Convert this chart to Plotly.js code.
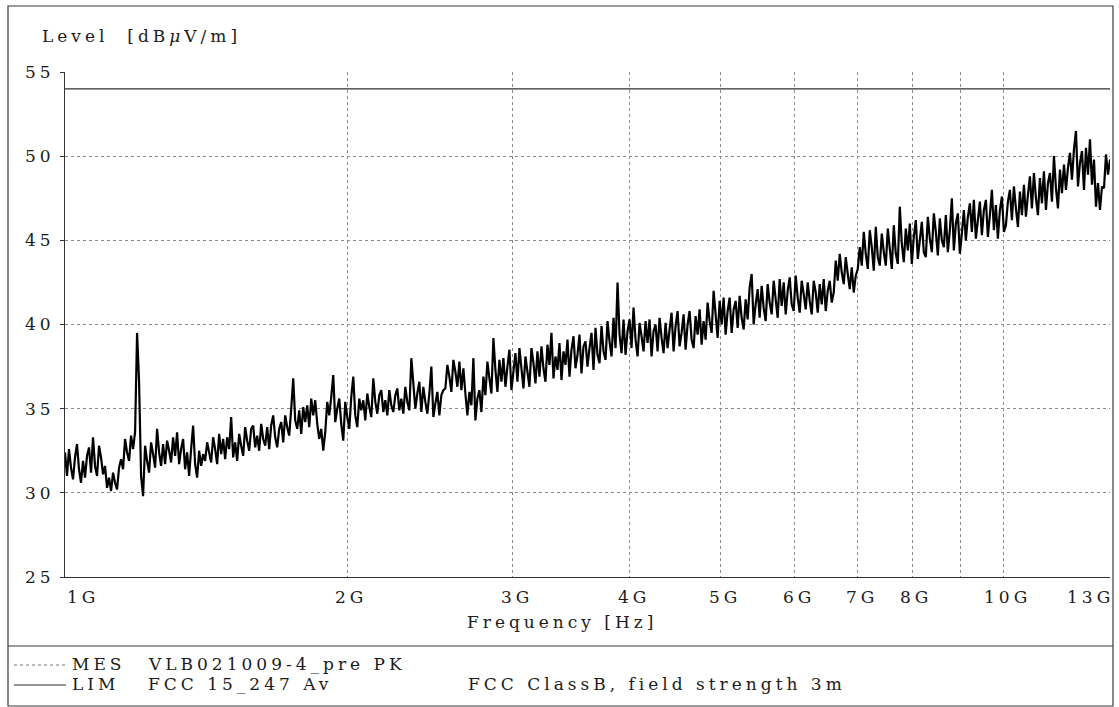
<!DOCTYPE html>
<html>
<head>
<meta charset="utf-8">
<script src="https://cdn.plot.ly/plotly-3.0.1.min.js"></script>
<style>
  html, body { margin: 0; padding: 0; background: #ffffff; }
  #chart { width: 1119px; height: 707px; }
  /* wide-set plotter lettering; applied to every svg text so measured boxes agree */
  svg text { letter-spacing: 4px; }
</style>
</head>
<body>
<div id="chart"></div>
<script>
// Sweep definition (log-spaced points between start and stop)
const sweepStartHz = 1e9;
const sweepStopHz = 13e9;

// MES: measured peak level, dBµV/m, one value per sweep point
const mesLevel = [
  32.4, 31.0, 32.6, 31.5, 30.8, 32.1, 32.9, 31.4, 30.6, 31.9,
  30.9, 32.2, 32.7, 31.2, 33.3, 31.6, 31.0, 32.8, 32.1, 31.1,
  31.6, 30.3, 30.9, 30.1, 31.2, 30.6, 30.2, 31.5, 32.0, 31.4,
  33.2, 32.4, 31.9, 33.4, 32.6, 33.6, 39.5, 36.6, 31.0, 29.8,
  32.8, 31.9, 31.2, 33.0, 32.3, 31.5, 33.8, 32.4, 31.6, 32.9,
  31.7, 33.1, 32.5, 31.8, 33.3, 32.2, 33.6, 31.7, 32.6, 33.2,
  31.4, 32.4, 31.0, 32.6, 34.0, 31.7, 30.9, 32.5, 31.6, 32.3,
  31.9, 33.0, 32.4, 31.8, 33.3, 32.6, 31.7, 33.5, 32.3, 33.2,
  32.0, 33.3, 32.6, 34.5, 32.1, 33.0, 31.9, 33.5, 32.8, 32.2,
  33.9, 33.1, 32.5, 33.8, 34.0, 32.7, 33.4, 32.5, 34.1, 33.2,
  32.8, 33.9, 32.6, 34.0, 34.6, 33.3, 32.7, 33.8, 34.2, 33.0,
  34.6, 33.9, 33.4, 35.0, 36.8, 34.3, 33.8, 34.9, 33.5, 35.1,
  34.2, 35.2, 33.9, 35.6, 34.6, 35.5, 34.1, 33.2, 33.8, 32.5,
  33.6, 35.4, 34.6, 35.7, 37.0, 34.2, 35.0, 35.6, 34.1, 33.1,
  35.4, 34.5, 33.8, 35.7, 36.9, 34.6, 33.9, 35.6, 34.9, 35.5,
  34.3, 35.9, 35.1, 34.5, 36.8, 35.4, 34.7, 35.8, 36.1, 34.8,
  35.5, 34.6, 36.1, 35.2, 34.8, 35.8, 36.2, 34.9, 35.6, 34.7,
  36.3, 35.4, 34.9, 38.0, 36.5, 35.0, 35.9, 36.6, 34.8, 36.3,
  35.4, 34.7, 35.9, 37.5, 34.5, 35.3, 36.0, 34.6, 35.8, 36.1,
  36.2, 37.6, 36.9, 36.0, 37.9, 37.2, 36.3, 37.8, 36.1, 37.4,
  35.9, 34.6, 36.0, 35.2, 38.0, 34.3, 35.6, 36.1, 34.8, 36.9,
  35.8, 37.8, 36.8, 35.9, 39.2, 37.3, 36.0, 37.9, 36.6, 38.0,
  36.3, 37.5, 38.5, 36.1, 37.2, 38.3, 36.6, 38.6, 37.4, 36.2,
  38.1, 37.2, 36.3, 38.6, 37.7, 36.5, 38.4, 36.9, 38.7, 37.4,
  36.6, 38.8, 37.6, 39.5, 36.8, 38.1, 37.3, 38.9, 36.7, 38.4,
  37.6, 39.1, 36.9, 38.5, 39.3, 37.4, 38.2, 39.4, 37.1, 38.7,
  39.0, 37.5, 38.6, 39.5, 37.3, 39.8, 38.2, 37.7, 39.9, 38.4,
  37.9, 40.2, 39.0, 38.1, 40.4, 38.6, 42.5, 39.4, 38.3, 40.3,
  38.2, 39.6, 40.3, 38.6, 41.0, 39.1, 38.1, 40.1, 39.3, 38.4,
  40.2, 38.9, 40.3, 38.1, 39.6, 40.0, 38.4, 40.4, 39.2, 38.3,
  40.1, 38.6, 39.7, 40.7, 38.4, 39.9, 40.8, 38.7, 39.5, 40.6,
  38.5, 40.0, 40.8, 39.1, 38.6, 40.5, 39.4, 40.9, 38.8, 40.2,
  39.1, 41.3, 40.2, 39.5, 42.0, 40.6, 39.2, 41.4, 40.0, 41.6,
  39.4, 40.8, 41.6, 39.5, 40.9, 41.4, 39.8, 41.7, 40.4, 39.7,
  41.5, 40.3, 42.2, 43.0, 40.0, 41.2, 42.1, 40.4, 42.3, 41.0,
  40.2, 42.4, 41.3, 40.6, 42.6, 41.5, 40.4, 42.7, 41.1, 42.5,
  40.6, 42.0, 42.8, 41.2, 40.8, 42.9, 41.6, 40.7, 42.6, 41.8,
  40.9, 42.5, 41.4, 40.6, 42.6, 41.9, 40.7, 42.4, 41.2, 42.7,
  40.8, 42.0, 42.6, 41.3, 41.9, 43.8, 42.6, 44.2, 43.1, 42.4,
  44.0, 43.0, 42.1, 43.4, 41.9, 42.9, 43.3, 44.6, 43.5, 45.5,
  44.2, 43.3, 45.6, 44.6, 43.2, 45.8, 44.0, 43.5, 45.4, 44.3,
  43.5, 45.7, 44.5, 43.3, 45.9, 44.2, 43.6, 47.0, 44.8, 43.7,
  45.7, 44.4, 46.0, 43.6, 45.2, 46.2, 43.9, 45.0, 46.1, 44.3,
  44.0, 46.4, 45.1, 44.3, 46.6, 45.5, 44.1, 46.3, 45.0, 44.6,
  46.5, 44.3, 45.6, 47.5, 44.4, 46.0, 46.6, 44.2, 45.4, 46.8,
  45.0, 46.4, 47.2, 45.5, 47.4, 45.1, 46.2, 47.3, 45.3, 46.8,
  47.4, 45.2, 46.5, 48.0, 45.6, 47.1, 45.1, 46.8, 47.6, 45.5,
  45.9, 47.3, 48.0, 46.2, 48.2, 46.9, 45.8, 47.9, 46.5, 48.3,
  46.4, 47.7, 48.8, 46.9, 49.0, 47.5, 46.5, 48.7, 47.2, 49.1,
  46.8, 48.4, 49.0, 47.3, 50.0, 48.1, 46.9, 49.2, 47.8, 49.5,
  48.0, 49.3, 50.2, 48.6, 50.4, 51.5, 48.2, 49.6, 50.3, 48.0,
  50.5, 48.9, 51.0, 48.3, 49.8, 47.0, 48.4, 46.8, 48.2,
  48.1, 50.1, 48.9, 49.8
];

// LIM: FCC 15.247 average limit
const limFreq = [1e9, 13e9];
const limLevel = [54, 54];

// Axis ticks and grid
const yTickVals = [25, 30, 35, 40, 45, 50, 55];
const yGridVals = [30, 35, 40, 45, 50];
const xGridFreq = [2e9, 3e9, 4e9, 5e9, 6e9, 7e9, 8e9, 9e9, 10e9];
const xTickFreq = [1e9, 2e9, 3e9, 4e9, 5e9, 6e9, 7e9, 8e9, 10e9, 13e9];
const xTickText = ['1G', '2G', '3G', '4G', '5G', '6G', '7G', '8G', '10G', '13G'];

// Legend / header texts
const yTitle = 'Level  [dB<i>μ</i>V/m]';
const xTitle = 'Frequency [Hz]';
const legendRows = [
  { tag: 'MES', name: 'VLB021009-4_pre PK', note: '' },
  { tag: 'LIM', name: 'FCC 15_247 Av', note: 'FCC ClassB, field strength 3m' }
];

const mesFreq = mesLevel.map((_, i) =>
  sweepStartHz * Math.pow(sweepStopHz / sweepStartHz, i / (mesLevel.length - 1)));

// page geometry helpers (pixels -> paper fractions)
const M = { l: 65, r: 9, t: 72, b: 130 };
const W = 1119, H = 707;
const PW = W - M.l - M.r, PH = H - M.t - M.b;
const PX = px => (px - M.l) / PW;
const PY = py => (H - M.b - py) / PH;

const FONT = 'DejaVu Serif, Liberation Serif, serif';
const FS = 17;
const INK = '#1c1c1c';
const txt = { family: FONT, size: FS, color: INK };

const traces = [
  {
    x: limFreq, y: limLevel, type: 'scatter', mode: 'lines', name: 'LIM',
    line: { color: '#2e2e2e', width: 1.3 }, hoverinfo: 'skip'
  },
  {
    x: mesFreq, y: mesLevel, type: 'scatter', mode: 'lines', name: 'MES',
    line: { color: '#000000', width: 2.2, simplify: false }, hoverinfo: 'skip'
  }
];

const annotations = [];
annotations.push({
  xref: 'paper', yref: 'paper', x: PX(40), y: PY(36), xanchor: 'left', yanchor: 'middle',
  text: yTitle, showarrow: false, font: txt
});
annotations.push({
  xref: 'paper', yref: 'paper', x: PX(562), y: PY(622), xanchor: 'center', yanchor: 'middle',
  text: xTitle, showarrow: false, font: txt
});
xTickFreq.forEach((f, k) => {
  const first = k === 0, last = k === xTickFreq.length - 1;
  annotations.push({
    xref: 'x', yref: 'paper', x: Math.log10(f), y: PY(597),
    xanchor: first ? 'left' : (last ? 'right' : 'center'), yanchor: 'middle',
    xshift: first ? 0 : (last ? 6 : 4),
    text: xTickText[k], showarrow: false, font: txt
  });
});
legendRows.forEach((row, k) => {
  const yy = PY(664 + 20 * k);
  annotations.push({ xref: 'paper', yref: 'paper', x: PX(70), y: yy, xanchor: 'left', yanchor: 'middle',
    text: row.tag, showarrow: false, font: txt });
  annotations.push({ xref: 'paper', yref: 'paper', x: PX(146), y: yy, xanchor: 'left', yanchor: 'middle',
    text: row.name, showarrow: false, font: txt });
  if (row.note) {
    annotations.push({ xref: 'paper', yref: 'paper', x: PX(466), y: yy, xanchor: 'left', yanchor: 'middle',
      text: row.note, showarrow: false, font: txt });
  }
});

const shapes = [
  // outer frame
  { type: 'rect', xref: 'paper', yref: 'paper', x0: PX(8), x1: PX(1113), y0: PY(6), y1: PY(706),
    line: { color: '#3a3a3a', width: 1.2 } },
  // separator between chart and legend block
  { type: 'line', xref: 'paper', yref: 'paper', x0: PX(8), x1: PX(1113), y0: PY(646), y1: PY(646),
    line: { color: '#3a3a3a', width: 1.2 } },
  // legend line samples
  { type: 'line', xref: 'paper', yref: 'paper', x0: PX(14), x1: PX(66), y0: PY(665), y1: PY(665),
    line: { color: '#777777', width: 1, dash: 'dot' } },
  { type: 'line', xref: 'paper', yref: 'paper', x0: PX(14), x1: PX(66), y0: PY(685), y1: PY(685),
    line: { color: '#2e2e2e', width: 1.2 } }
];

const layout = {
  width: W, height: H,
  margin: { l: M.l, r: M.r, t: M.t, b: M.b, pad: 0 },
  paper_bgcolor: '#ffffff', plot_bgcolor: '#ffffff',
  showlegend: false,
  font: txt,
  xaxis: {
    type: 'log', range: [Math.log10(sweepStartHz), Math.log10(sweepStopHz)],
    tickmode: 'array', tickvals: xGridFreq, showticklabels: false, ticks: '',
    showgrid: true, gridcolor: '#8a8a8a', griddash: 'dot', gridwidth: 1,
    showline: true, linecolor: '#333333', linewidth: 1, zeroline: false, fixedrange: true
  },
  yaxis: {
    range: [25, 55], tickmode: 'array', tickvals: yTickVals,
    ticks: 'outside', ticklen: 4, tickcolor: '#333333', ticklabelstandoff: 2,
    tickfont: txt,
    showgrid: false, showline: true, linecolor: '#333333', linewidth: 1,
    zeroline: false, fixedrange: true,
    minor: { tickmode: 'array', tickvals: yGridVals, showgrid: true, gridcolor: '#8a8a8a',
             griddash: 'dot', gridwidth: 1, ticks: '' }
  },
  annotations: annotations,
  shapes: shapes
};

Plotly.newPlot('chart', traces, layout, { staticPlot: true, displayModeBar: false });
</script>
</body>
</html>
